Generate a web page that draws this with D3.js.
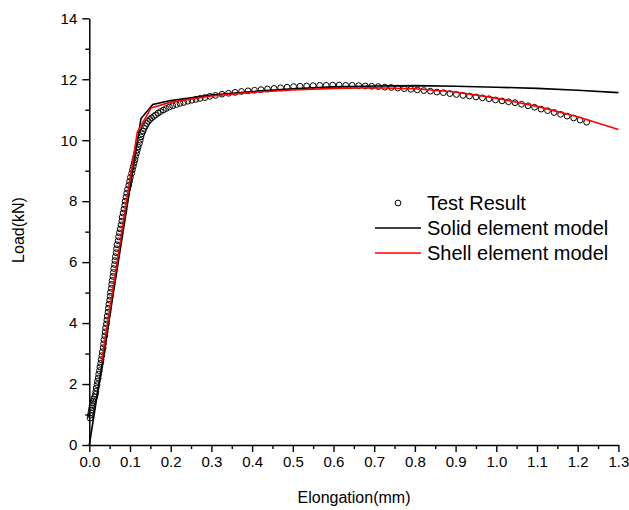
<!DOCTYPE html>
<html><head><meta charset="utf-8">
<script src="https://cdn.jsdelivr.net/npm/d3@7"></script>
<style>
body{margin:0;background:#fff}
text{font-family:Arial,"Liberation Sans",sans-serif;fill:#000}
</style>
</head><body>
<svg id="c" width="629" height="510"></svg>
<script>
// ---- data ----
const xTickValues = [0.0,0.1,0.2,0.3,0.4,0.5,0.6,0.7,0.8,0.9,1.0,1.1,1.2,1.3];
const yTickValues = [0,2,4,6,8,10,12,14];
const seriesNames = ["Test Result","Solid element model","Shell element model"];
const xLabel = "Elongation(mm)";
const yLabel = "Load(kN)";

const testX = [0.002,0.003,0.004,0.005,0.006,0.007,0.008,0.010,0.011,0.013,0.015,0.016,0.017,0.019,0.020,0.022,0.023,0.025,0.026,0.028,0.029,
0.031,0.032,0.034,0.035,0.036,0.038,0.039,0.040,0.042,0.043,0.044,0.046,0.047,0.048,0.050,0.051,0.052,0.054,0.055,0.056,0.058,0.059,0.060,0.062,0.063,0.064,0.066,0.067,0.068,
0.071,0.072,0.074,0.076,0.078,0.080,0.081,0.083,0.085,0.087,0.088,0.090,0.092,0.094,0.097,0.099,0.101,0.104,0.106,0.108,
0.110,0.112,0.114,0.116,0.118,0.120,0.123,0.125,0.127,0.129,0.132,0.135,0.138,0.141,0.145,0.149,0.153,0.158,0.163,0.169,0.175,0.182,0.189,0.197,
0.205,0.214,0.223,0.232,0.242,0.252,0.262,0.272,0.284,0.296,0.310,0.326,0.342,0.358,0.374,0.390,0.406,0.422,0.438,0.454,0.470,0.486,0.502,0.518,0.534,0.550,0.566,0.582,0.598,0.614,0.630,0.646,0.662,0.678,0.694,0.710,0.726,0.742,0.758,0.774,0.790,0.806,0.822,0.838,0.854,
0.870,0.886,0.902,0.918,0.934,0.950,0.966,0.982,0.998,1.014,1.030,1.046,1.062,1.078,1.094,1.110,1.126,1.142,1.158,1.174,1.190,1.206,1.222];
const testY = [0.88,0.98,1.06,1.14,1.22,1.30,1.37,1.44,1.51,1.58,1.66,1.76,1.87,1.98,2.09,2.20,2.32,2.44,2.56,2.68,2.80,
2.93,3.06,3.19,3.32,3.45,3.58,3.71,3.84,3.97,4.10,4.23,4.36,4.49,4.62,4.75,4.88,5.01,5.14,5.27,5.40,5.53,5.66,5.79,5.92,6.05,6.18,6.31,6.44,6.57,
6.70,6.83,6.96,7.09,7.22,7.35,7.48,7.61,7.74,7.87,8.00,8.13,8.26,8.39,8.52,8.65,8.78,8.91,9.03,9.14,
9.25,9.36,9.47,9.58,9.68,9.78,9.89,10.00,10.11,10.21,10.30,10.39,10.47,10.55,10.62,10.68,10.73,10.78,10.83,10.89,10.94,10.99,11.04,11.09,
11.13,11.17,11.21,11.24,11.28,11.31,11.34,11.37,11.40,11.44,11.47,11.51,11.54,11.57,11.60,11.62,11.64,11.66,11.68,11.70,11.72,11.74,11.76,11.77,11.78,11.79,11.80,11.80,11.81,11.81,11.80,11.80,11.79,11.78,11.77,11.76,11.74,11.73,11.71,11.69,11.67,11.65,11.63,11.61,11.58,
11.56,11.53,11.50,11.47,11.45,11.42,11.39,11.36,11.32,11.29,11.26,11.23,11.18,11.13,11.08,11.02,10.97,10.91,10.85,10.79,10.73,10.66,10.59];

const solidX = [0.0,0.127,0.156,0.2,0.3,0.4,0.5,0.6,0.7,0.8,0.9,1.0,1.1,1.2,1.3];
const solidY = [0.0,10.71,11.17,11.30,11.48,11.60,11.69,11.75,11.78,11.79,11.77,11.74,11.70,11.64,11.56];

const shellX = [0.03,0.118,0.152,0.2,0.3,0.4,0.5,0.6,0.7,0.8,0.9,1.0,1.1,1.2,1.3];
const shellY = [2.70,10.27,11.06,11.25,11.45,11.57,11.65,11.70,11.72,11.69,11.58,11.38,11.11,10.77,10.35];

// ---- chart ----
const svg = d3.select("#c");
svg.append("rect").attr("width",629).attr("height",510).attr("fill","#fff");

const x = d3.scaleLinear().domain([0,1.3]).range([89.3,618.4]);
const y = d3.scaleLinear().domain([0,14]).range([445,18.3]);

const xMinor = d3.range(0.05,1.3,0.1);
const yMinor = d3.range(1,14,2);

// minor ticks
svg.append("g").attr("transform","translate(0,445)")
  .call(d3.axisBottom(x).tickValues(xMinor).tickSize(4).tickFormat(""))
  .call(g=>g.select(".domain").remove())
  .call(g=>g.selectAll("line").attr("stroke-width",1.4));
svg.append("g").attr("transform","translate(89.3,0)")
  .call(d3.axisLeft(y).tickValues(yMinor).tickSize(4).tickFormat(""))
  .call(g=>g.select(".domain").remove())
  .call(g=>g.selectAll("line").attr("stroke-width",1.4));

const xAxis = svg.append("g").attr("transform","translate(0,445)")
  .call(d3.axisBottom(x).tickValues(xTickValues).tickSize(7).tickSizeOuter(0).tickPadding(4).tickFormat(d3.format(".1f")));
const yAxis = svg.append("g").attr("transform","translate(89.3,0)")
  .call(d3.axisLeft(y).tickValues(yTickValues).tickSize(7).tickSizeOuter(0).tickPadding(5).tickFormat(d3.format("d")));
[xAxis,yAxis].forEach(g=>{
  g.select(".domain").attr("stroke-width",1.5);
  g.selectAll("line").attr("stroke-width",1.4);
  g.selectAll("text").style("font-size","15px").attr("font-family",null);
});

// axis titles
svg.append("text").attr("x",354).attr("y",503).attr("text-anchor","middle")
  .style("font-size","16px").text(xLabel);
svg.append("text").attr("transform","translate(24,230) rotate(-90)").attr("text-anchor","middle")
  .style("font-size","16px").text(yLabel);

// test points
const testData = testX.map((v,i)=>[v,testY[i]]);
svg.append("g").selectAll("circle").data(testData).join("circle")
  .attr("cx",d=>x(d[0])).attr("cy",d=>y(d[1])).attr("r",2.9)
  .attr("fill","none").attr("stroke","#000").attr("stroke-width",1);

const line = d3.line().x(d=>x(d[0])).y(d=>y(d[1]));
const solidData = solidX.map((v,i)=>[v,solidY[i]]);
const shellData = shellX.map((v,i)=>[v,shellY[i]]);
svg.append("path").datum(solidData).attr("d",line).attr("fill","none").attr("stroke","#000").attr("stroke-width",1.6);
svg.append("path").datum(shellData).attr("d",line).attr("fill","none").attr("stroke","#ff0000").attr("stroke-width",1.6);

// legend
const lg = svg.append("g");
const rows = [203,228,253];
lg.append("circle").attr("cx",398).attr("cy",rows[0]).attr("r",2.9).attr("fill","none").attr("stroke","#000");
lg.append("line").attr("x1",375).attr("x2",421).attr("y1",rows[1]).attr("y2",rows[1]).attr("stroke","#000").attr("stroke-width",1.6);
lg.append("line").attr("x1",375).attr("x2",421).attr("y1",rows[2]).attr("y2",rows[2]).attr("stroke","#ff0000").attr("stroke-width",1.6);
seriesNames.forEach((n,i)=>{
  lg.append("text").attr("x",427).attr("y",rows[i]+7).style("font-size","20px").text(n);
});
</script>
</body></html>
